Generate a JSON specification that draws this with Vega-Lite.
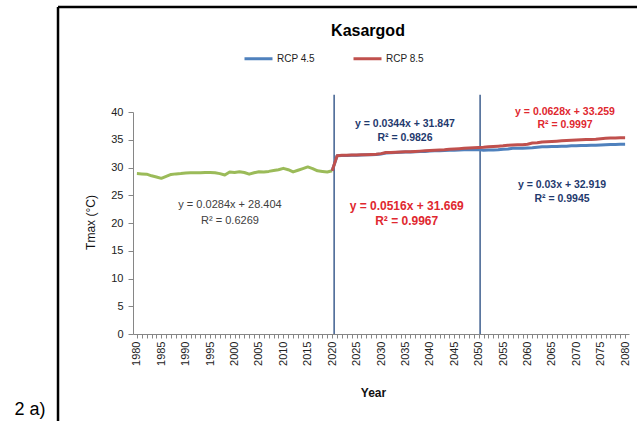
{
  "$schema": "https://vega.github.io/schema/vega-lite/v6.json",
  "width": 496,
  "height": 222,
  "autosize": {"type": "none"},
  "padding": {"left": 133, "top": 112, "right": 8, "bottom": 87},
  "background": "white",
  "title": {"text": "Kasargod", "fontSize": 16, "fontWeight": "bold", "font": "Liberation Sans", "color": "#000000", "anchor": "middle", "dx": -13, "offset": -46, "baseline": "alphabetic"},
  "config": {
    "view": {"stroke": null},
    "font": "Liberation Sans",
    "axis": {"domainColor": "#868686", "tickColor": "#868686", "grid": false, "labelColor": "#222222", "labelFont": "Liberation Sans", "labelFontSize": 11, "titleFont": "Liberation Sans", "titleColor": "#111111"},
    "legend": {"orient": "none", "legendX": 110, "legendY": -69, "direction": "horizontal", "symbolType": "stroke", "symbolStrokeWidth": 3, "symbolSize": 784, "labelFontSize": 10, "labelFont": "Liberation Sans", "labelColor": "#222222", "columnPadding": 32, "labelOffset": 3, "title": null}
  },
  "datasets": {
    "series": [
      {"year": 1980, "tmax": 28.9, "series": "Observed"}, {"year": 1981, "tmax": 28.85, "series": "Observed"}, {"year": 1982, "tmax": 28.8, "series": "Observed"}, {"year": 1983, "tmax": 28.5, "series": "Observed"}, {"year": 1984, "tmax": 28.3, "series": "Observed"}, {"year": 1985, "tmax": 28.05, "series": "Observed"}, {"year": 1986, "tmax": 28.4, "series": "Observed"}, {"year": 1987, "tmax": 28.75, "series": "Observed"}, {"year": 1988, "tmax": 28.85, "series": "Observed"}, {"year": 1989, "tmax": 28.9, "series": "Observed"}, {"year": 1990, "tmax": 29.0, "series": "Observed"}, {"year": 1991, "tmax": 29.05, "series": "Observed"}, {"year": 1992, "tmax": 29.05, "series": "Observed"}, {"year": 1993, "tmax": 29.05, "series": "Observed"}, {"year": 1994, "tmax": 29.1, "series": "Observed"}, {"year": 1995, "tmax": 29.1, "series": "Observed"}, {"year": 1996, "tmax": 29.05, "series": "Observed"}, {"year": 1997, "tmax": 28.9, "series": "Observed"}, {"year": 1998, "tmax": 28.65, "series": "Observed"}, {"year": 1999, "tmax": 29.2, "series": "Observed"}, {"year": 2000, "tmax": 29.1, "series": "Observed"}, {"year": 2001, "tmax": 29.25, "series": "Observed"}, {"year": 2002, "tmax": 29.1, "series": "Observed"}, {"year": 2003, "tmax": 28.8, "series": "Observed"}, {"year": 2004, "tmax": 29.05, "series": "Observed"}, {"year": 2005, "tmax": 29.25, "series": "Observed"}, {"year": 2006, "tmax": 29.2, "series": "Observed"}, {"year": 2007, "tmax": 29.3, "series": "Observed"}, {"year": 2008, "tmax": 29.45, "series": "Observed"}, {"year": 2009, "tmax": 29.6, "series": "Observed"}, {"year": 2010, "tmax": 29.85, "series": "Observed"}, {"year": 2011, "tmax": 29.6, "series": "Observed"}, {"year": 2012, "tmax": 29.2, "series": "Observed"}, {"year": 2013, "tmax": 29.5, "series": "Observed"}, {"year": 2014, "tmax": 29.8, "series": "Observed"}, {"year": 2015, "tmax": 30.1, "series": "Observed"}, {"year": 2016, "tmax": 29.8, "series": "Observed"}, {"year": 2017, "tmax": 29.4, "series": "Observed"}, {"year": 2018, "tmax": 29.3, "series": "Observed"}, {"year": 2019, "tmax": 29.2, "series": "Observed"}, {"year": 2020, "tmax": 29.4, "series": "Observed"},
      {"year": 2020, "tmax": 29.4, "series": "RCP 4.5"}, {"year": 2021, "tmax": 32.1, "series": "RCP 4.5"}, {"year": 2022, "tmax": 32.15, "series": "RCP 4.5"}, {"year": 2023, "tmax": 32.15, "series": "RCP 4.5"}, {"year": 2024, "tmax": 32.2, "series": "RCP 4.5"}, {"year": 2025, "tmax": 32.2, "series": "RCP 4.5"}, {"year": 2026, "tmax": 32.25, "series": "RCP 4.5"}, {"year": 2027, "tmax": 32.3, "series": "RCP 4.5"}, {"year": 2028, "tmax": 32.3, "series": "RCP 4.5"}, {"year": 2029, "tmax": 32.35, "series": "RCP 4.5"}, {"year": 2030, "tmax": 32.45, "series": "RCP 4.5"}, {"year": 2031, "tmax": 32.6, "series": "RCP 4.5"}, {"year": 2032, "tmax": 32.65, "series": "RCP 4.5"}, {"year": 2033, "tmax": 32.7, "series": "RCP 4.5"}, {"year": 2034, "tmax": 32.75, "series": "RCP 4.5"}, {"year": 2035, "tmax": 32.8, "series": "RCP 4.5"}, {"year": 2036, "tmax": 32.8, "series": "RCP 4.5"}, {"year": 2037, "tmax": 32.85, "series": "RCP 4.5"}, {"year": 2038, "tmax": 32.9, "series": "RCP 4.5"}, {"year": 2039, "tmax": 32.9, "series": "RCP 4.5"}, {"year": 2040, "tmax": 32.95, "series": "RCP 4.5"}, {"year": 2041, "tmax": 33.0, "series": "RCP 4.5"}, {"year": 2042, "tmax": 33.0, "series": "RCP 4.5"}, {"year": 2043, "tmax": 33.05, "series": "RCP 4.5"}, {"year": 2044, "tmax": 33.1, "series": "RCP 4.5"}, {"year": 2045, "tmax": 33.1, "series": "RCP 4.5"}, {"year": 2046, "tmax": 33.15, "series": "RCP 4.5"}, {"year": 2047, "tmax": 33.2, "series": "RCP 4.5"}, {"year": 2048, "tmax": 33.2, "series": "RCP 4.5"}, {"year": 2049, "tmax": 33.2, "series": "RCP 4.5"}, {"year": 2050, "tmax": 33.25, "series": "RCP 4.5"}, {"year": 2051, "tmax": 33.1, "series": "RCP 4.5"}, {"year": 2052, "tmax": 33.15, "series": "RCP 4.5"}, {"year": 2053, "tmax": 33.15, "series": "RCP 4.5"}, {"year": 2054, "tmax": 33.2, "series": "RCP 4.5"}, {"year": 2055, "tmax": 33.3, "series": "RCP 4.5"}, {"year": 2056, "tmax": 33.35, "series": "RCP 4.5"}, {"year": 2057, "tmax": 33.45, "series": "RCP 4.5"}, {"year": 2058, "tmax": 33.45, "series": "RCP 4.5"}, {"year": 2059, "tmax": 33.45, "series": "RCP 4.5"}, {"year": 2060, "tmax": 33.5, "series": "RCP 4.5"}, {"year": 2061, "tmax": 33.55, "series": "RCP 4.5"}, {"year": 2062, "tmax": 33.65, "series": "RCP 4.5"}, {"year": 2063, "tmax": 33.75, "series": "RCP 4.5"}, {"year": 2064, "tmax": 33.75, "series": "RCP 4.5"}, {"year": 2065, "tmax": 33.8, "series": "RCP 4.5"}, {"year": 2066, "tmax": 33.8, "series": "RCP 4.5"}, {"year": 2067, "tmax": 33.85, "series": "RCP 4.5"}, {"year": 2068, "tmax": 33.85, "series": "RCP 4.5"}, {"year": 2069, "tmax": 33.9, "series": "RCP 4.5"}, {"year": 2070, "tmax": 33.9, "series": "RCP 4.5"}, {"year": 2071, "tmax": 33.95, "series": "RCP 4.5"}, {"year": 2072, "tmax": 33.95, "series": "RCP 4.5"}, {"year": 2073, "tmax": 34.0, "series": "RCP 4.5"}, {"year": 2074, "tmax": 34.0, "series": "RCP 4.5"}, {"year": 2075, "tmax": 34.05, "series": "RCP 4.5"}, {"year": 2076, "tmax": 34.1, "series": "RCP 4.5"}, {"year": 2077, "tmax": 34.15, "series": "RCP 4.5"}, {"year": 2078, "tmax": 34.15, "series": "RCP 4.5"}, {"year": 2079, "tmax": 34.2, "series": "RCP 4.5"}, {"year": 2080, "tmax": 34.2, "series": "RCP 4.5"},
      {"year": 2020, "tmax": 29.4, "series": "RCP 8.5"}, {"year": 2021, "tmax": 32.1, "series": "RCP 8.5"}, {"year": 2022, "tmax": 32.2, "series": "RCP 8.5"}, {"year": 2023, "tmax": 32.2, "series": "RCP 8.5"}, {"year": 2024, "tmax": 32.25, "series": "RCP 8.5"}, {"year": 2025, "tmax": 32.25, "series": "RCP 8.5"}, {"year": 2026, "tmax": 32.3, "series": "RCP 8.5"}, {"year": 2027, "tmax": 32.3, "series": "RCP 8.5"}, {"year": 2028, "tmax": 32.35, "series": "RCP 8.5"}, {"year": 2029, "tmax": 32.4, "series": "RCP 8.5"}, {"year": 2030, "tmax": 32.5, "series": "RCP 8.5"}, {"year": 2031, "tmax": 32.7, "series": "RCP 8.5"}, {"year": 2032, "tmax": 32.7, "series": "RCP 8.5"}, {"year": 2033, "tmax": 32.75, "series": "RCP 8.5"}, {"year": 2034, "tmax": 32.8, "series": "RCP 8.5"}, {"year": 2035, "tmax": 32.85, "series": "RCP 8.5"}, {"year": 2036, "tmax": 32.85, "series": "RCP 8.5"}, {"year": 2037, "tmax": 32.9, "series": "RCP 8.5"}, {"year": 2038, "tmax": 32.95, "series": "RCP 8.5"}, {"year": 2039, "tmax": 33.0, "series": "RCP 8.5"}, {"year": 2040, "tmax": 33.05, "series": "RCP 8.5"}, {"year": 2041, "tmax": 33.1, "series": "RCP 8.5"}, {"year": 2042, "tmax": 33.15, "series": "RCP 8.5"}, {"year": 2043, "tmax": 33.2, "series": "RCP 8.5"}, {"year": 2044, "tmax": 33.3, "series": "RCP 8.5"}, {"year": 2045, "tmax": 33.35, "series": "RCP 8.5"}, {"year": 2046, "tmax": 33.4, "series": "RCP 8.5"}, {"year": 2047, "tmax": 33.45, "series": "RCP 8.5"}, {"year": 2048, "tmax": 33.5, "series": "RCP 8.5"}, {"year": 2049, "tmax": 33.55, "series": "RCP 8.5"}, {"year": 2050, "tmax": 33.6, "series": "RCP 8.5"}, {"year": 2051, "tmax": 33.65, "series": "RCP 8.5"}, {"year": 2052, "tmax": 33.75, "series": "RCP 8.5"}, {"year": 2053, "tmax": 33.8, "series": "RCP 8.5"}, {"year": 2054, "tmax": 33.85, "series": "RCP 8.5"}, {"year": 2055, "tmax": 33.9, "series": "RCP 8.5"}, {"year": 2056, "tmax": 34.0, "series": "RCP 8.5"}, {"year": 2057, "tmax": 34.05, "series": "RCP 8.5"}, {"year": 2058, "tmax": 34.1, "series": "RCP 8.5"}, {"year": 2059, "tmax": 34.1, "series": "RCP 8.5"}, {"year": 2060, "tmax": 34.2, "series": "RCP 8.5"}, {"year": 2061, "tmax": 34.4, "series": "RCP 8.5"}, {"year": 2062, "tmax": 34.45, "series": "RCP 8.5"}, {"year": 2063, "tmax": 34.6, "series": "RCP 8.5"}, {"year": 2064, "tmax": 34.65, "series": "RCP 8.5"}, {"year": 2065, "tmax": 34.7, "series": "RCP 8.5"}, {"year": 2066, "tmax": 34.75, "series": "RCP 8.5"}, {"year": 2067, "tmax": 34.8, "series": "RCP 8.5"}, {"year": 2068, "tmax": 34.85, "series": "RCP 8.5"}, {"year": 2069, "tmax": 34.9, "series": "RCP 8.5"}, {"year": 2070, "tmax": 34.95, "series": "RCP 8.5"}, {"year": 2071, "tmax": 35.0, "series": "RCP 8.5"}, {"year": 2072, "tmax": 35.05, "series": "RCP 8.5"}, {"year": 2073, "tmax": 35.05, "series": "RCP 8.5"}, {"year": 2074, "tmax": 35.1, "series": "RCP 8.5"}, {"year": 2075, "tmax": 35.2, "series": "RCP 8.5"}, {"year": 2076, "tmax": 35.25, "series": "RCP 8.5"}, {"year": 2077, "tmax": 35.3, "series": "RCP 8.5"}, {"year": 2078, "tmax": 35.3, "series": "RCP 8.5"}, {"year": 2079, "tmax": 35.35, "series": "RCP 8.5"}, {"year": 2080, "tmax": 35.35, "series": "RCP 8.5"}
    ],
    "boundaries": [{"year": 2020.4, "tmax": 0, "top": 43.1}, {"year": 2050.3, "tmax": 0, "top": 43.1}],
    "annotations": [
      {"group": "obs", "year": 1999.07, "tmax": 23.24, "lines": ["y = 0.0284x + 28.404", "R² = 0.6269"]},
      {"group": "rcp45a", "year": 2034.91, "tmax": 37.89, "lines": ["y = 0.0344x + 31.847", "R² = 0.9826"]},
      {"group": "rcp85a", "year": 2035.26, "tmax": 23.1, "lines": ["y = 0.0516x + 31.669", "R² = 0.9967"]},
      {"group": "rcp85b", "year": 2067.69, "tmax": 40.05, "lines": ["y = 0.0628x + 33.259", "R² = 0.9997"]},
      {"group": "rcp45b", "year": 2067.07, "tmax": 26.85, "lines": ["y = 0.03x + 32.919", "R² = 0.9945"]}
    ],
    "frame": [{"year": 1963.84, "right": 2083, "tmax": 58.9, "bottom": -16}],
    "panel": [{"label": "2 a)", "year": 1958.1, "tmax": -13.7}]
  },
  "encoding": {
    "x": {"field": "year", "type": "quantitative", "title": "Year",
          "scale": {"domain": [1979.2, 2080.8], "nice": false, "zero": false},
          "axis": {"values": [1980,1981,1982,1983,1984,1985,1986,1987,1988,1989,1990,1991,1992,1993,1994,1995,1996,1997,1998,1999,2000,2001,2002,2003,2004,2005,2006,2007,2008,2009,2010,2011,2012,2013,2014,2015,2016,2017,2018,2019,2020,2021,2022,2023,2024,2025,2026,2027,2028,2029,2030,2031,2032,2033,2034,2035,2036,2037,2038,2039,2040,2041,2042,2043,2044,2045,2046,2047,2048,2049,2050,2051,2052,2053,2054,2055,2056,2057,2058,2059,2060,2061,2062,2063,2064,2065,2066,2067,2068,2069,2070,2071,2072,2073,2074,2075,2076,2077,2078,2079,2080],
                   "format": "d", "labelExpr": "datum.value % 5 === 0 ? datum.label : ''", "labelAngle": -90, "labelOverlap": false, "labelFlush": false, "tickSize": 4, "labelPadding": 3, "titleFontSize": 12, "titleFontWeight": "bold", "titleX": 240, "titleY": 58, "titleBaseline": "middle"}},
    "y": {"field": "tmax", "type": "quantitative", "title": "Tmax (°C)",
          "scale": {"domain": [0, 40], "nice": false},
          "axis": {"values": [0,5,10,15,20,25,30,35,40], "tickSize": 5, "labelPadding": 5, "titleFontSize": 12, "titleFontWeight": "normal", "titleX": -43, "titleY": 110, "titleAngle": -90, "titleAlign": "center", "titleBaseline": "middle"}}
  },
  "layer": [
    {
      "data": {"name": "boundaries"},
      "mark": {"type": "rule", "color": "#3E5F8F", "strokeWidth": 1.5},
      "encoding": {"y2": {"field": "top"}}
    },
    {
      "data": {"name": "series"},
      "transform": [{"filter": "datum.series === 'Observed'"}],
      "mark": {"type": "line", "strokeWidth": 3, "strokeJoin": "round"},
      "encoding": {
        "color": {"field": "series", "type": "nominal", "scale": {"domain": ["RCP 4.5", "RCP 8.5", "Observed"], "range": ["#4F81BD", "#C0504D", "#9BBB59"]}, "legend": {"values": ["RCP 4.5", "RCP 8.5"]}}
      }
    },
    {
      "data": {"name": "series"},
      "transform": [{"filter": "datum.series === 'RCP 4.5'"}],
      "mark": {"type": "line", "strokeWidth": 3, "strokeJoin": "round"},
      "encoding": {"color": {"field": "series", "type": "nominal"}}
    },
    {
      "data": {"name": "series"},
      "transform": [{"filter": "datum.series === 'RCP 8.5'"}],
      "mark": {"type": "line", "strokeWidth": 3, "strokeJoin": "round"},
      "encoding": {"color": {"field": "series", "type": "nominal"}}
    },
    {
      "data": {"name": "annotations"},
      "transform": [{"filter": "datum.group === 'obs'"}],
      "mark": {"type": "text", "align": "center", "baseline": "middle", "fontSize": 11, "color": "#404040", "lineHeight": 16},
      "encoding": {"text": {"field": "lines"}}
    },
    {
      "data": {"name": "annotations"},
      "transform": [{"filter": "datum.group === 'rcp45a' || datum.group === 'rcp45b'"}],
      "mark": {"type": "text", "align": "center", "baseline": "middle", "fontSize": 10.5, "fontWeight": "bold", "color": "#1F3A6E", "lineHeight": 14},
      "encoding": {"text": {"field": "lines"}}
    },
    {
      "data": {"name": "annotations"},
      "transform": [{"filter": "datum.group === 'rcp85a'"}],
      "mark": {"type": "text", "align": "center", "baseline": "middle", "fontSize": 12, "fontWeight": "bold", "color": "#E0282F", "lineHeight": 15},
      "encoding": {"text": {"field": "lines"}}
    },
    {
      "data": {"name": "annotations"},
      "transform": [{"filter": "datum.group === 'rcp85b'"}],
      "mark": {"type": "text", "align": "center", "baseline": "middle", "fontSize": 10.5, "fontWeight": "bold", "color": "#E0282F", "lineHeight": 13.5},
      "encoding": {"text": {"field": "lines"}}
    },
    {
      "data": {"name": "frame"},
      "mark": {"type": "rule", "color": "#000000", "strokeWidth": 2.5},
      "encoding": {"x2": {"field": "right"}}
    },
    {
      "data": {"name": "frame"},
      "mark": {"type": "rule", "color": "#000000", "strokeWidth": 2.5},
      "encoding": {"y2": {"field": "bottom"}}
    },
    {
      "data": {"name": "panel"},
      "mark": {"type": "text", "align": "center", "baseline": "middle", "fontSize": 18, "color": "#000000", "font": "Liberation Sans"},
      "encoding": {"text": {"field": "label"}}
    }
  ]
}
